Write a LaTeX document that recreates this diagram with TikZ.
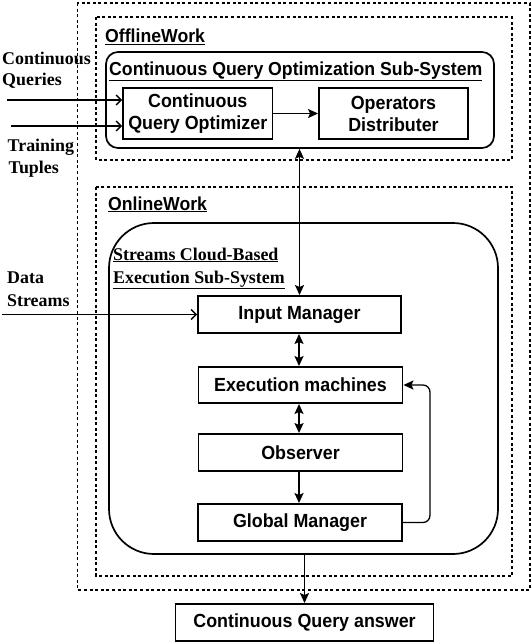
\documentclass[tikz,border=0pt]{standalone}
\usepackage{fontspec}
\setmainfont{Liberation Serif}
\setsansfont{Liberation Sans}
\newfontfamily\boxfont[FakeStretch=0.94]{Liberation Sans}
\usetikzlibrary{arrows.meta}
\begin{document}
\begin{tikzpicture}[x=1pt,y=-1pt,
  dashbox/.style={draw, line width=1.7pt, dash pattern=on 3pt off 2.6pt},
  box/.style={draw, line width=1.9pt, inner sep=0pt, align=center,
    font=\boxfont\bfseries\fontsize{19}{22}\selectfont},
  roundbox/.style={draw, line width=1.7pt, inner sep=0pt},
  slab/.style={anchor=base west, inner sep=0pt, font=\bfseries\fontsize{17.9}{20}\selectfont},
  ulab/.style={anchor=base west, inner sep=0pt, font=\boxfont\bfseries\fontsize{18.8}{20}\selectfont},
  farrow/.style={-{Stealth[length=10pt,width=9pt,inset=2pt]}, line width=1.8pt},
  dfarrow/.style={{Stealth[length=10pt,width=9pt,inset=2pt]}-{Stealth[length=10pt,width=9pt,inset=2pt]}, line width=1.8pt},
  oarrow/.style={-{Straight Barb[length=5pt,width=10pt,line width=1.3pt]}, line width=1.8pt}
]
\useasboundingbox (0,0) rectangle (532,642);
\fill[white] (0,0) rectangle (532,642);

% dashed frames
\draw[dashbox] (77.4,3) rectangle (530,590);
\draw[dashbox] (96,17) rectangle (512,160);
\draw[dashbox] (96,187) rectangle (512,576);

% rounded containers
\node[roundbox, rounded corners=12pt, minimum width=388pt, minimum height=96pt] (cqoss) at (300,100) {};
\node[roundbox, rounded corners=45pt, minimum width=389pt, minimum height=331pt] (scbes) at (303.5,388.5) {};

% labels
\node[ulab] (offl) at (105,43) {\underline{OfflineWork}};
\node[ulab] (cqosst) at (109,75) {\underline{Continuous Query Optimization Sub-System}};
\node[ulab] (onl) at (108,210) {\underline{OnlineWork}};
\node[slab] (sc1) at (113,260) {\underline{Streams Cloud-Based}};
\node[slab] (sc2) at (113,283) {\underline{Execution Sub-System}};

\node[slab] (cq1) at (2,65) {Continuous};
\node[slab] (cq2) at (2,85) {Queries};
\node[slab] (tt1) at (7.5,151) {Training};
\node[slab] (tt2) at (8.5,173) {Tuples};
\node[slab] (ds1) at (7,283) {Data};
\node[slab] (ds2) at (7,306) {Streams};

% boxes
\node[box, minimum width=149.5pt, minimum height=51pt] (cqo) at (197.75,113.5) {Continuous\\Query Optimizer};
\node[box, minimum width=149pt, minimum height=51pt] (od) at (393.5,113.5) {Operators\\Distributer};
\node[box, minimum width=203pt, minimum height=37pt] (im) at (299.5,314.5) {Input Manager};
\node[box, minimum width=204pt, minimum height=36pt] (em) at (300.5,385) {Execution machines};
\node[box, minimum width=204pt, minimum height=37pt] (obs) at (300.5,452.5) {Observer};
\node[box, minimum width=204pt, minimum height=37pt] (gm) at (300,522.5) {Global Manager};
\node[box, minimum width=258pt, minimum height=37pt] (cqa) at (304.5,622.5) {Continuous Query answer};

% input arrows
\coordinate (cqin) at (7,100);
\coordinate (ttin) at (11,126);
\coordinate (dsin) at (2,314.5);
\draw[oarrow] (cqin) -- (cqin -| cqo.west);
\draw[oarrow] (ttin) -- (ttin -| cqo.west);
\draw[oarrow] (dsin) -- (im.west);

% internal arrows
\draw[farrow] (cqo.east) -- (od.west);
\draw[dfarrow] (cqoss.south -| im.north) -- (im.north);
\draw[dfarrow] (im.south -| 299,0) -- (em.north -| 299,0);
\draw[dfarrow] (em.south -| 299,0) -- (obs.north -| 299,0);
\draw[farrow] (obs.south -| 299,0) -- (gm.north -| 299,0);
\draw[farrow, line width=1.3pt, rounded corners=7pt] (gm.east) -- ++(27,0) |- (em.east);
\draw[farrow] (scbes.south -| cqa.north) -- (cqa.north);
\end{tikzpicture}
\end{document}
